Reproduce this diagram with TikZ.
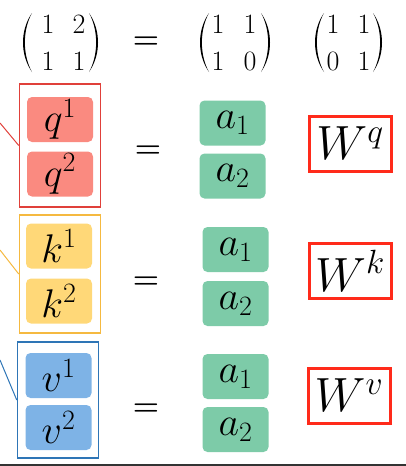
\RequirePackage{fix-cm}
\documentclass[tikz,border=0pt]{standalone}
\usepackage{amsmath}
\definecolor{qfill}{HTML}{FA8A80}
\definecolor{kfill}{HTML}{FFD878}
\definecolor{vfill}{HTML}{7EB3E6}
\definecolor{afill}{HTML}{7DCBA8}
\definecolor{qline}{HTML}{E0403A}
\definecolor{kline}{HTML}{F5B940}
\definecolor{vline}{HTML}{2E75B6}
\definecolor{wline}{HTML}{FF2A1A}
\newcommand{\bigfont}{\fontsize{40}{44}\selectfont}
\newcommand{\wfont}{\fontsize{48}{52}\selectfont}
\newcommand{\matfont}{\fontsize{28}{29}\selectfont}
% parentheses of the top matrices, #1 = outermost x
\newcommand{\lpar}[1]{\fill (#1+9, 13) .. controls (#1-3, 30) and (#1-3, 55) .. (#1+9, 72)
  .. controls (#1-0.5, 55) and (#1-0.5, 30) .. (#1+9, 13);}
\newcommand{\rpar}[1]{\fill (#1-9, 13) .. controls (#1+3, 30) and (#1+3, 55) .. (#1-9, 72)
  .. controls (#1+0.5, 55) and (#1+0.5, 30) .. (#1-9, 13);}

\begin{document}
\begin{tikzpicture}[x=1pt, y=-1pt,
    entry/.style={font=\matfont, inner sep=0pt},
    vecbox/.style={rounded corners=5pt, minimum width=66pt, minimum height=45pt,
      inner sep=0pt, font=\bigfont},
    frame/.style={draw, line width=1.5pt, minimum width=81pt, inner sep=0pt},
    wbox/.style={draw=wline, line width=3pt, minimum width=82pt, minimum height=55pt,
      inner sep=0pt, font=\wfont},
    eqsign/.style={font=\fontsize{30}{30}\selectfont}]
    \useasboundingbox (0, 0) rectangle (406, 466);
    % top row
    \node[entry] (m1a) at (48, 24) {$1$};
    \node[entry] (m1b) at (79, 24) {$2$};
    \node[entry] (m1c) at (48, 61) {$1$};
    \node[entry] (m1d) at (79, 61) {$1$};
    \lpar{23} \rpar{98}
    \node[eqsign] (eq0) at (146, 43) {$\boldsymbol{=}$};
    \node[entry] (m2a) at (218, 24) {$1$};
    \node[entry] (m2b) at (250, 24) {$1$};
    \node[entry] (m2c) at (218, 61) {$1$};
    \node[entry] (m2d) at (250, 61) {$0$};
    \lpar{200} \rpar{270}
    \node[entry] (m3a) at (333, 24) {$1$};
    \node[entry] (m3b) at (364, 24) {$1$};
    \node[entry] (m3c) at (333, 61) {$0$};
    \node[entry] (m3d) at (364, 61) {$1$};
    \lpar{315} \rpar{382}
    % q
    \node[frame, draw=qline, minimum height=123pt] (qf) at (60, 145.5) {};
    \node[vecbox, fill=qfill] (q1) at (60, 119.5) {$q^1$};
    \node[vecbox, fill=qfill] (q2) at (60, 174) {$q^2$};
    \node[eqsign] (eq1) at (148, 152) {$\boldsymbol{=}$};
    \node[vecbox, fill=afill] (qa1) at (232.5, 123) {$a_1$};
    \node[vecbox, fill=afill] (qa2) at (232.5, 176) {$a_2$};
    \node[wbox] (wq) at (350, 143.5) {$W^q$};
    \coordinate (qin) at (0, 123);
    \draw[qline, line width=1pt] (qin) -- (qf.west);
    % k
    \node[frame, draw=kline, minimum height=118pt] (kf) at (60, 274) {};
    \node[vecbox, fill=kfill] (k1) at (59, 246) {$k^1$};
    \node[vecbox, fill=kfill] (k2) at (59, 301) {$k^2$};
    \node[eqsign] (eq2) at (146, 283) {$\boldsymbol{=}$};
    \node[vecbox, fill=afill] (ka1) at (235.5, 249.5) {$a_1$};
    \node[vecbox, fill=afill] (ka2) at (235.5, 303.5) {$a_2$};
    \node[wbox] (wk) at (350, 271) {$W^k$};
    \coordinate (kin) at (0, 250);
    \draw[kline, line width=1pt] (kin) -- (kf.west);
    % v
    \node[frame, draw=vline, minimum height=116pt] (vf) at (58, 400) {};
    \node[vecbox, fill=vfill] (v1) at (58.5, 375.5) {$v^1$};
    \node[vecbox, fill=vfill] (v2) at (58.5, 427.5) {$v^2$};
    \node[eqsign] (eq3) at (146, 410) {$\boldsymbol{=}$};
    \node[vecbox, fill=afill] (va1) at (235.5, 376.5) {$a_1$};
    \node[vecbox, fill=afill] (va2) at (235.5, 429.5) {$a_2$};
    \node[wbox] (wv) at (349, 395.5) {$W^v$};
    \coordinate (vin) at (0, 360);
    \draw[vline, line width=1pt] (vin) -- (vf.west);
    % bottom edge
    \fill[black!80] (0, 463.5) rectangle (406, 466);
\end{tikzpicture}
\end{document}
